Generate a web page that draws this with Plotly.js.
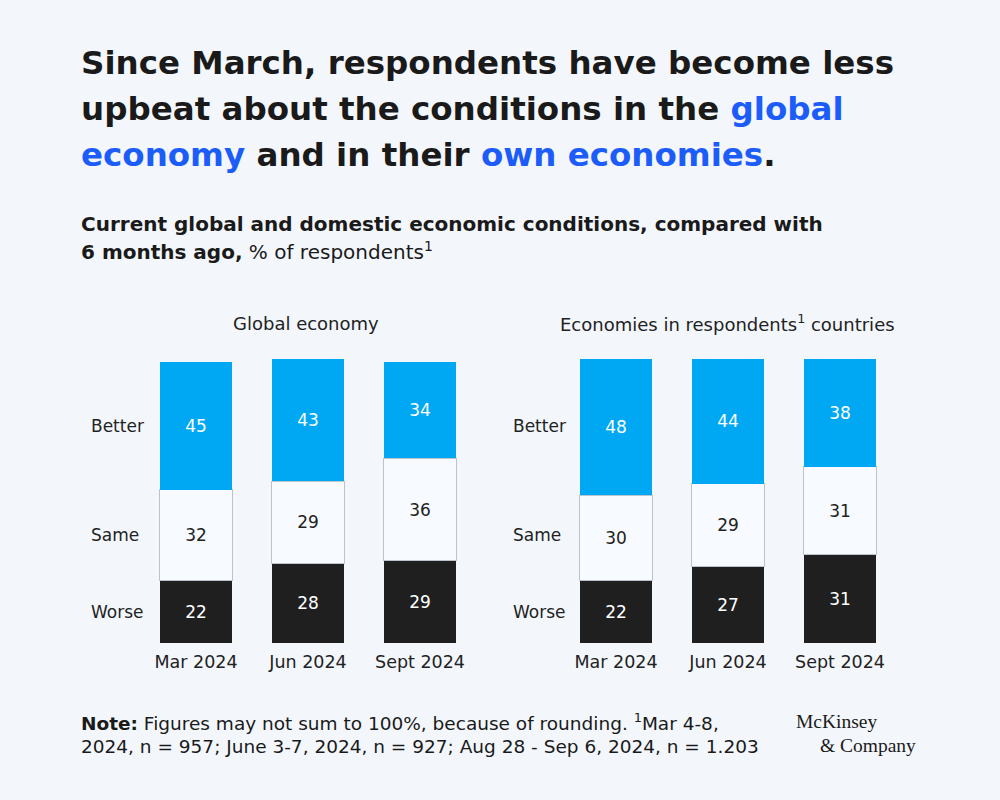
<!DOCTYPE html>
<html>
<head>
<meta charset="utf-8">
<script src="https://cdn.plot.ly/plotly-3.0.1.min.js"></script>
<style>html,body{margin:0;padding:0;background:#f3f7fc;}#chart{width:1000px;height:800px;}</style>
</head>
<body>
<div id="chart"></div>
<script>
// ---- data ----
const periods = ['Mar 2024', 'Jun 2024', 'Sept 2024'];
const categories = ['Better', 'Same', 'Worse'];
const globalBetter = [45, 43, 34];
const globalSame = [32, 29, 36];
const globalWorse = [22, 28, 29];
const domBetter = [48, 44, 38];
const domSame = [30, 29, 31];
const domWorse = [22, 27, 31];
const panelTitles = ['Global economy', 'Economies in respondents<sup>1</sup> countries'];

// ---- style ----
const FONT = '"DejaVu Sans", Inter, sans-serif';
const BG = '#f3f7fc';
const BLUE = '#00a8f3';
const DARK = '#1f1f1f';
const SAME = '#f7faff';
const HL = '#1c5cf8';
const W = 1000, H = 800;
const px = x => x / W;
const py = y => 1 - y / H;
const hl = s => '<span style="color:' + HL + '">' + s + '</span>';

function seg(x, y, color, textColor, xa, ya, name, line) {
  return {
    type: 'bar', x: x, y: y, xaxis: xa, yaxis: ya, name: name,
    marker: {color: color, line: line || {width: 0}},
    text: y.map(String), textposition: 'inside', insidetextanchor: 'middle',
    textfont: {family: FONT, size: 17, color: textColor},
    hoverinfo: 'skip', showlegend: false, width: 0.643, cliponaxis: false
  };
}
const sameLine = {color: '#bcc3cd', width: 1};
const data = [
  seg(periods, globalWorse, DARK, '#ffffff', 'x', 'y', 'Worse'),
  seg(periods, globalSame, SAME, '#222222', 'x', 'y', 'Same', sameLine),
  seg(periods, globalBetter, BLUE, '#ffffff', 'x', 'y', 'Better'),
  seg(periods, domWorse, DARK, '#ffffff', 'x2', 'y2', 'Worse'),
  seg(periods, domSame, SAME, '#222222', 'x2', 'y2', 'Same', sameLine),
  seg(periods, domBetter, BLUE, '#ffffff', 'x2', 'y2', 'Better')
];

// category label heights from the first bar's segment midpoints
const mids = [
  globalWorse[0] + globalSame[0] + globalBetter[0] / 2,
  globalWorse[0] + globalSame[0] / 2,
  globalWorse[0] / 2
];

const ann = [];
function line(text, x, y, size, opts) {
  ann.push(Object.assign({
    xref: 'paper', yref: 'paper', x: px(x), y: py(y), xanchor: 'left', yanchor: 'middle', align: 'left',
    showarrow: false, text: text, font: {family: FONT, size: size, color: '#1a1a1a'}
  }, opts || {}));
}
const titleFont = {family: FONT, size: 32.5, color: '#1a1a1a', weight: 700};
line('Since March, respondents have become less', 79, 63, 32.5, {font: titleFont});
line('upbeat about the conditions in the ' + hl('global'), 79, 109, 32.5, {font: titleFont});
line(hl('economy') + ' and in their ' + hl('own economies') + '.', 79, 155, 32.5, {font: titleFont});

line('<b>Current global and domestic economic conditions, compared with</b>', 79, 224, 20);
line('<b>6 months ago,</b> % of respondents<sup>1</sup>', 79, 251, 20);

ann.push({xref: 'paper', yref: 'paper', x: px(306), y: py(323), xanchor: 'center', yanchor: 'middle', showarrow: false, text: panelTitles[0], font: {family: FONT, size: 18, color: '#222'}});
ann.push({xref: 'paper', yref: 'paper', x: px(727), y: py(323), xanchor: 'center', yanchor: 'middle', showarrow: false, text: panelTitles[1], font: {family: FONT, size: 18, color: '#222'}});
categories.forEach((c, i) => {
  ann.push({xref: 'paper', yref: 'y', x: px(89), y: mids[i], xanchor: 'left', showarrow: false, text: c, font: {family: FONT, size: 17, color: '#222'}});
  ann.push({xref: 'paper', yref: 'y', x: px(511), y: mids[i], xanchor: 'left', showarrow: false, text: c, font: {family: FONT, size: 17, color: '#222'}});
});

line('<b>Note:</b> Figures may not sum to 100%, because of rounding. <sup>1</sup>Mar 4-8,', 79, 722, 18.5);
line('2024, n = 957; June 3-7, 2024, n = 927; Aug 28 - Sep 6, 2024, n = 1.203', 79, 746, 18.5);

const logoFont = {family: '"Liberation Serif", "DejaVu Serif", serif', size: 19.5, color: '#1a1a1a'};
line('McKinsey', 794, 721, 19.5, {font: logoFont});
line('&amp; Company', 918, 745, 19.5, {font: logoFont, xanchor: 'right', align: 'right'});

const xaxisBase = {
  type: 'category', range: [-0.5, 2.5], showgrid: false, zeroline: false, showline: false,
  ticks: '', ticklabelstandoff: 6, tickfont: {family: FONT, size: 17.5, color: '#222'}, fixedrange: true
};
const yaxisBase = {
  range: [0, 100], showgrid: false, zeroline: false, showline: false, showticklabels: false, ticks: '', fixedrange: true
};

const layout = {
  width: W, height: H,
  margin: {l: 0, r: 0, t: 0, b: 0},
  paper_bgcolor: BG, plot_bgcolor: BG,
  barmode: 'stack', bargap: 0,
  xaxis: Object.assign({}, xaxisBase, {domain: [px(140), px(476)], anchor: 'y'}),
  xaxis2: Object.assign({}, xaxisBase, {domain: [px(560), px(896)], anchor: 'y2'}),
  yaxis: Object.assign({}, yaxisBase, {domain: [py(643), py(359)], anchor: 'x'}),
  yaxis2: Object.assign({}, yaxisBase, {domain: [py(643), py(359)], anchor: 'x2'}),
  annotations: ann
};

Plotly.newPlot('chart', data, layout, {displayModeBar: false, staticPlot: true});
</script>
</body>
</html>
